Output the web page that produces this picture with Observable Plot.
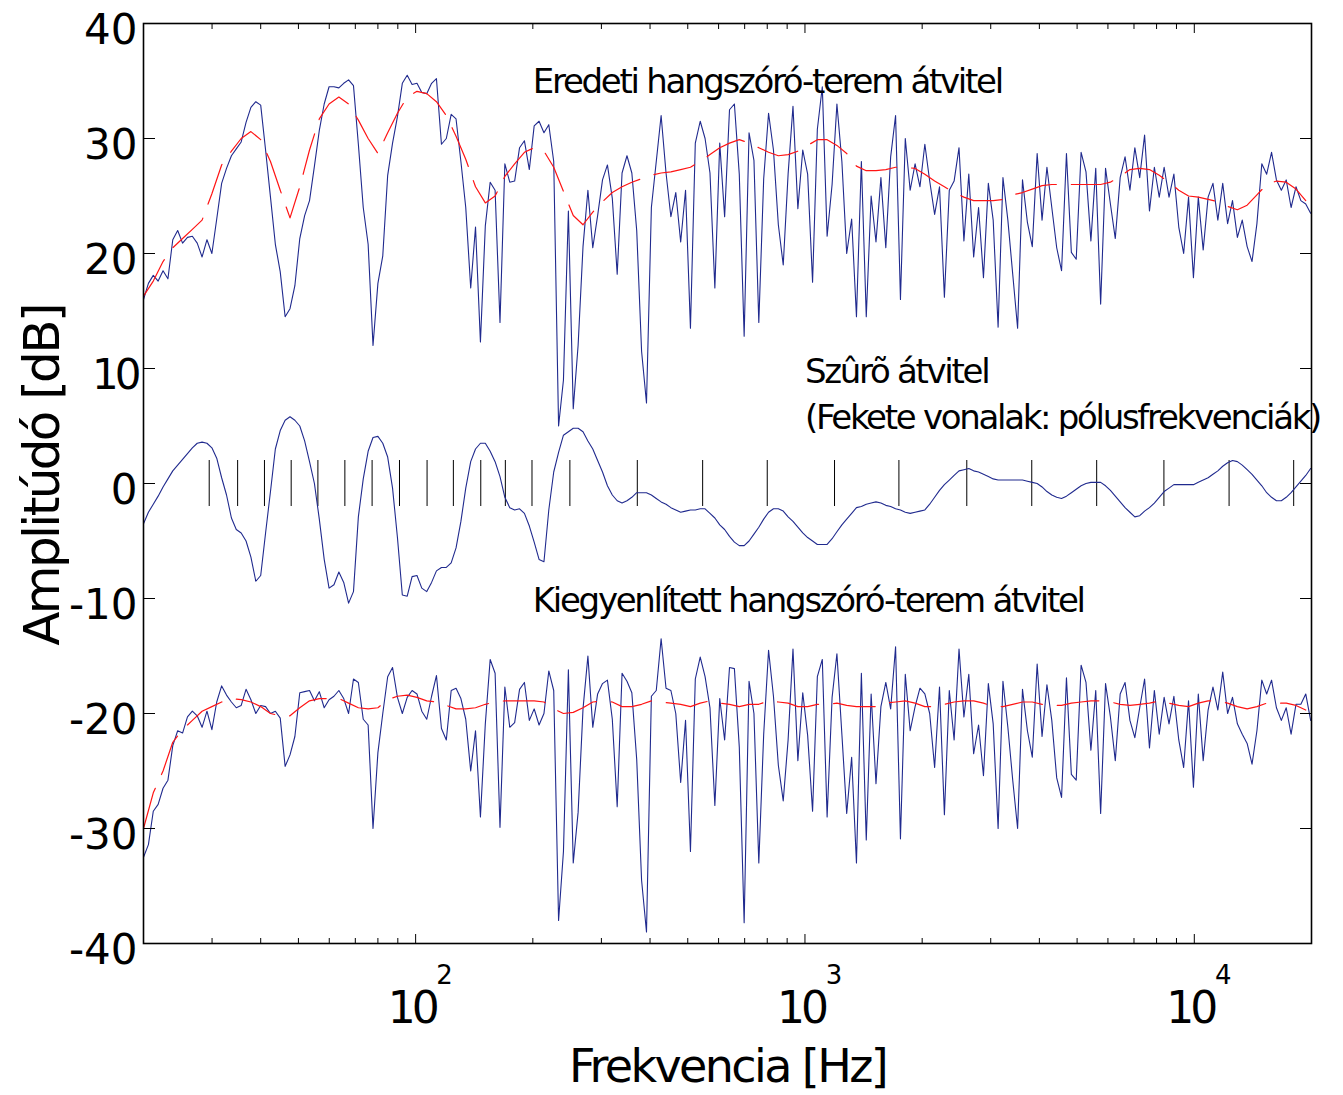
<!DOCTYPE html>
<html><head><meta charset="utf-8">
<script src="https://cdn.jsdelivr.net/npm/d3@7"></script>
<script src="https://cdn.jsdelivr.net/npm/@observablehq/plot@0.6"></script>
<style>
html,body{margin:0;padding:0;background:#fff;}
</style></head>
<body><div id="chart"></div>
<script>
// 1/24-octave analysis frequencies [Hz]
const freqs = [
20,20.59,21.19,21.81,22.45,23.11,23.78,24.48,25.2,25.94,26.7,27.48,28.28,29.11,29.97,30.84,31.75,32.68,33.64,34.62,35.64,36.68,37.75,38.86,
40,41.17,42.38,43.62,44.9,46.22,47.57,48.96,50.4,51.87,53.39,54.96,56.57,58.23,59.93,61.69,63.5,65.36,67.27,69.24,71.27,73.36,75.51,77.72,
80,82.34,84.76,87.24,89.8,92.43,95.14,97.93,100.8,103.7,106.8,109.9,113.1,116.5,119.9,123.4,127,130.7,134.5,138.5,142.5,146.7,151,155.4,
160,164.7,169.5,174.5,179.6,184.9,190.3,195.9,201.6,207.5,213.6,219.8,226.3,232.9,239.7,246.8,254,261.4,269.1,277,285.1,293.4,302,310.9,
320,329.4,339,349,359.2,369.7,380.5,391.7,403.2,415,427.1,439.7,452.5,465.8,479.5,493.5,508,522.8,538.2,553.9,570.2,586.9,604.1,621.8,
640,658.8,678.1,697.9,718.4,739.5,761.1,783.4,806.3,830,854.3,879.4,905.1,931.6,958.9,987,1016,1046,1076,1108,1140,1174,1208,1244,
1280,1318,1356,1396,1437,1479,1522,1567,1613,1660,1709,1759,1810,1863,1918,1974,2032,2091,2153,2216,2281,2348,2416,2487,
2560,2635,2712,2792,2874,2958,3044,3134,3225,3320,3417,3517,3620,3727,3836,3948,4064,4183,4305,4432,4561,4695,4833,4974,
5120,5270,5425,5583,5747,5916,6089,6267,6451,6640,6834,7035,7241,7453,7671,7896,8127,8366,8611,8863,9123,9390,9665,9949,
10240,10540,10850,11167,11494,11831,12177,12535,12902,13279,13669,14070,14482,14907,15343,15792,16255,16731,17222,17727,18246,18780,19331,19898
];

// Eredeti hangszóró-terem átvitel [dB]
const original = [
16.0,17.4,18.1,17.6,18.5,17.8,21.2,22.0,20.9,21.4,
21.5,20.9,19.7,21.2,20.0,23.0,26.1,27.4,28.5,29.1,
29.7,31.4,32.7,33.2,32.9,29.0,24.9,20.8,18.4,14.5,
15.2,17.2,21.3,23.3,24.6,27.6,30.7,33.0,34.5,34.5,
34.4,34.8,35.1,34.6,29.5,24.0,20.8,12.0,17.4,19.8,
26.8,29.6,31.9,34.8,35.5,34.7,34.8,34.0,33.9,34.8,
35.2,29.5,30.0,32.1,31.7,28.0,24.0,17.0,22.3,12.3,
22.4,26.2,25.5,14.0,27.8,26.2,26.3,29.2,29.8,27.3,
31.1,31.5,30.5,31.2,28.0,5.0,9.0,23.7,6.5,12.0,
20.6,25.5,20.5,23.3,26.4,27.7,24.8,18.2,27.0,28.5,
27.0,22.0,11.5,7.0,24.0,28.0,32.0,27.0,23.2,25.3,
21.0,25.5,13.5,29.6,31.5,30.0,27.0,17.0,29.6,23.2,
32.5,33.0,26.9,12.8,30.5,28.1,14.0,26.5,32.2,29.0,
22.5,19.0,26.9,32.8,23.9,29.0,26.9,17.5,30.8,34.5,
21.5,26.0,33.0,28.0,20.0,23.0,14.5,28.0,14.5,25.0,
21.0,26.6,20.5,28.4,32.0,16.0,30.0,25.5,27.8,25.8,
29.5,26.3,23.4,25.8,16.2,25.5,26.3,29.2,21.1,26.9,
19.7,24.0,17.9,26.1,22.9,13.6,26.6,22.9,18.2,13.5,
26.4,22.7,20.6,28.7,22.9,27.5,24.0,20.5,18.5,28.7,
20.1,19.5,28.8,27.1,21.1,27.4,15.6,27.4,24.3,21.3,
26.6,28.4,25.5,29.2,26.6,30.3,23.7,27.5,24.9,27.5,
24.9,26.9,22.3,20.0,24.9,17.9,24.9,20.3,24.9,26.1,
22.9,26.1,22.6,24.6,21.4,22.9,20.6,19.3,22.6,27.8,
26.9,28.8,26.4,25.5,26.4,24.0,25.8,24.6,24.3,23.5
];

// Szûrõ átvitel [dB]
const filterResp = [
-3.5,-2.5,-1.8,-1.1,-0.3,0.4,1.1,1.6,2.1,2.6,
3.1,3.5,3.6,3.5,3.1,2.2,0.5,-1.0,-3.0,-4.0,
-4.3,-5.0,-6.4,-8.5,-8.0,-4.3,-0.7,3.0,4.6,5.5,
5.8,5.5,5.0,3.7,1.9,0.0,-3.1,-6.6,-9.1,-8.8,
-7.7,-8.6,-10.4,-9.4,-2.9,0.4,2.8,4.0,4.1,3.5,
2.3,-0.4,-4.7,-9.7,-9.8,-8.1,-8.0,-9.1,-9.4,-8.6,
-7.6,-7.3,-7.3,-6.9,-5.6,-3.3,-0.4,1.9,3.0,3.5,
3.5,2.8,1.9,0.6,-1.2,-2.1,-2.3,-2.2,-2.6,-3.7,
-5.1,-6.6,-6.8,-2.3,1.0,2.7,4.2,4.5,4.8,4.8,
4.5,3.7,3.0,2.0,1.0,-0.2,-1.0,-1.5,-1.7,-1.5,
-1.2,-0.8,-0.8,-0.8,-1.0,-1.3,-1.6,-1.8,-2.1,-2.3,
-2.5,-2.4,-2.3,-2.3,-2.2,-2.2,-2.6,-3.0,-3.6,-4.0,
-4.6,-5.1,-5.4,-5.4,-5.0,-4.4,-3.8,-3.1,-2.5,-2.2,
-2.2,-2.4,-2.9,-3.3,-3.8,-4.3,-4.7,-5.0,-5.3,-5.3,
-5.3,-4.8,-4.2,-3.6,-3.1,-2.6,-2.1,-2.0,-1.8,-1.7,
-1.6,-1.7,-1.9,-2.0,-2.2,-2.3,-2.5,-2.6,-2.5,-2.4,
-2.3,-1.8,-1.2,-0.6,-0.1,0.3,0.7,1.1,1.2,1.3,
1.1,1.0,0.8,0.6,0.4,0.3,0.3,0.3,0.3,0.3,
0.3,0.2,0.1,0.0,-0.3,-0.7,-1.0,-1.2,-1.3,-1.1,
-0.8,-0.5,-0.2,0.0,0.1,0.1,0.1,-0.2,-0.6,-1.1,
-1.6,-2.1,-2.5,-2.9,-2.8,-2.4,-2.1,-1.7,-1.2,-0.7,
-0.4,-0.1,-0.1,-0.1,-0.1,-0.1,0.1,0.3,0.5,0.8,
1.1,1.5,1.8,2.0,1.9,1.6,1.2,0.8,0.3,-0.2,
-0.8,-1.2,-1.5,-1.5,-1.2,-0.8,-0.3,0.2,0.7,1.3
];

// Kiegyenlített hangszóró-terem átvitel [dB]
const equalized = [
-32.5,-31.4,-28.5,-27.9,-26.5,-25.8,-22.8,-21.5,-21.7,-20.3,
-19.8,-20.2,-21.2,-19.8,-21.4,-19.0,-17.6,-18.4,-19.0,-19.5,
-19.3,-17.9,-18.8,-20.0,-19.3,-19.4,-20.0,-19.8,-20.4,-24.6,
-23.6,-22.0,-18.2,-18.1,-18.0,-18.9,-18.1,-19.5,-18.8,-18.5,
-18.0,-18.7,-20.0,-17.0,-17.3,-20.5,-21.0,-30.0,-23.4,-20.0,
-16.8,-16.0,-18.6,-20.0,-18.6,-18.0,-18.3,-19.8,-20.5,-18.5,
-16.7,-21.3,-22.3,-18.0,-17.8,-18.7,-20.5,-25.0,-21.5,-29.0,
-20.9,-15.3,-16.5,-29.9,-17.7,-21.2,-20.8,-17.9,-17.3,-20.6,
-19.6,-21.0,-20.0,-16.3,-18.0,-38.0,-32.0,-16.2,-33.0,-28.6,
-19.6,-15.0,-21.2,-18.3,-17.4,-17.1,-20.5,-28.1,-16.5,-17.2,
-18.2,-24.0,-34.5,-39.0,-18.5,-18.0,-13.5,-17.8,-18.0,-20.0,
-26.0,-20.6,-32.0,-17.0,-15.1,-16.8,-19.5,-28.0,-18.7,-22.3,
-16.0,-16.1,-22.9,-38.2,-17.2,-20.0,-33.0,-21.8,-14.5,-18.5,
-24.5,-27.6,-22.3,-14.4,-24.1,-18.2,-21.9,-28.5,-16.8,-15.3,
-29.0,-18.6,-14.8,-21.8,-28.7,-23.8,-33.0,-16.5,-31.0,-18.3,
-26.1,-19.4,-17.3,-19.6,-14.2,-30.9,-16.6,-21.5,-19.4,-17.8,
-18.3,-20.0,-24.7,-17.7,-28.8,-18.0,-22.3,-14.4,-20.3,-16.6,
-23.5,-21.0,-25.4,-17.4,-20.9,-30.0,-17.2,-21.2,-25.8,-30.0,
-17.9,-21.5,-23.8,-15.7,-22.0,-17.5,-20.6,-25.6,-27.3,-16.9,
-25.3,-25.8,-15.8,-17.3,-23.2,-18.0,-28.7,-17.4,-20.3,-24.1,
-18.3,-17.3,-20.6,-22.1,-19.5,-17.0,-23.0,-18.0,-21.8,-18.6,
-20.9,-18.5,-22.3,-24.7,-18.9,-26.4,-18.3,-24.1,-19.7,-17.7,
-19.7,-16.4,-20.0,-18.6,-20.9,-21.8,-22.6,-24.4,-21.5,-17.1,
-18.3,-17.1,-19.5,-20.6,-19.5,-21.8,-19.2,-19.2,-18.3,-20.6
];

// smoothed curves (red dashed), on every second analysis frequency (1/12 octave)
const originalSmooth = [
16.3,17.6,19.3,20.5,21.3,22.1,22.9,25.2,27.7,28.9,
30.0,30.6,29.9,28.0,25.5,23.1,25.8,29.0,31.7,33.0,
33.6,33.0,31.6,30.0,28.7,30.5,32.2,33.6,34.1,33.9,
33.2,32.0,30.2,28.2,25.8,24.4,25.0,26.7,27.8,28.8,
29.2,28.9,27.5,25.4,23.3,22.5,23.6,24.5,25.3,25.8,
26.2,26.5,26.8,27.0,27.1,27.3,27.5,28.0,28.6,29.2,
29.6,29.9,29.6,29.2,28.8,28.5,28.6,28.9,29.4,29.9,
29.9,29.4,28.7,27.6,27.2,27.2,27.3,27.5,27.5,27.4,
26.9,26.3,25.8,25.3,24.9,24.6,24.6,24.6,24.7,25.1,
25.3,25.6,25.9,26.0,26.0,26.0,26.0,26.0,26.0,26.2,
26.7,27.3,27.4,27.3,26.8,26.2,25.5,25.0,24.9,24.7,
24.5,24.1,23.8,24.2,25.1,26.0,26.3,26.2,25.6,24.6
];
const equalizedSmooth = [
-30.0,-26.9,-25.0,-22.5,-21.4,-20.6,-19.8,-19.4,-19.0,-18.7,
-18.8,-19.0,-19.4,-20.0,-20.2,-20.2,-19.5,-18.9,-18.7,-18.7,
-18.7,-19.1,-19.5,-19.6,-19.5,-18.8,-18.5,-18.4,-18.6,-18.9,
-19.0,-19.3,-19.6,-19.6,-19.5,-19.2,-19.0,-18.9,-18.9,-18.9,
-18.9,-19.0,-19.6,-20.0,-19.9,-19.5,-19.0,-18.9,-19.0,-19.4,
-19.4,-19.2,-18.9,-19.0,-19.1,-19.2,-19.4,-19.1,-18.9,-19.1,
-19.2,-19.4,-19.2,-19.2,-18.9,-19.0,-19.1,-19.4,-19.4,-19.2,
-19.2,-19.1,-19.3,-19.4,-19.4,-19.4,-19.1,-19.0,-18.9,-19.1,
-19.4,-19.4,-19.2,-19.0,-18.9,-18.9,-19.1,-19.4,-19.4,-19.2,
-19.0,-19.0,-19.2,-19.3,-19.3,-19.1,-19.0,-18.9,-18.9,-19.0,
-19.2,-19.3,-19.2,-19.1,-18.9,-19.1,-19.3,-19.4,-19.1,-18.9,
-18.9,-19.1,-19.4,-19.6,-19.4,-19.1,-19.1,-19.1,-19.3,-19.7
];

// pole frequencies of the filter [Hz] (black markers)
const poleFreqs = [29.5,34.9,40.9,47.9,56.1,65.8,77.3,90.9,107,125,147,170,199,249,371,546,800,1191,1743,2604,3824,5614,8355,12284,18000];
const poleMarkerDb = 2;

// axes
const yTicks = [-40,-30,-20,-10,0,10,20,30,40];
const majorFreqTicks = [100,1000,10000];
const minorFreqTicks = [20,30,40,50,60,70,80,90,200,300,400,500,600,700,800,900,2000,3000,4000,5000,6000,7000,8000,9000,20000];
const xTitle = "Frekvencia [Hz]";
const yTitle = "Amplitúdó [dB]";

// annotations
const annoLabels = ["Eredeti hangszóró-terem átvitel","Szûrõ átvitel","(Fekete vonalak: pólusfrekvenciák)","Kiegyenlített hangszóró-terem átvitel"];
const annoFreqs = [200,1000,1000,200];
const annoDb = [34.9,9.7,5.7,-10.2];

const BLUE = "#202a8e";
const RED = "#ff1414";
const FONT = "'DejaVu Sans', Verdana, sans-serif";

const smoothFreqs = freqs.filter((f, i) => i % 2 === 0);
const origData = freqs.map((f, i) => ({f, db: original[i]}));
const eqData = freqs.map((f, i) => ({f, db: equalized[i]}));
const filtData = freqs.map((f, i) => ({f, db: filterResp[i]}));
const origSmoothData = smoothFreqs.map((f, i) => ({f, db: originalSmooth[i]}));
const eqSmoothData = smoothFreqs.map((f, i) => ({f, db: equalizedSmooth[i]}));
const annotations = annoLabels.map((label, i) => ({label, f: annoFreqs[i], db: annoDb[i]}));
const fmtY = d => (d < 0 ? "-" : "") + Math.abs(d);

const chart = Plot.plot({
  width: 1343,
  height: 1095,
  marginLeft: 143,
  marginRight: 32,
  marginTop: 23,
  marginBottom: 152,
  style: {fontFamily: FONT, background: "#fff", color: "#000"},
  x: {type: "log", domain: [20, 20000], label: null},
  y: {domain: [-40, 40], label: null},
  marks: [
    Plot.ruleX(poleFreqs, {x: d => d, y1: -poleMarkerDb, y2: poleMarkerDb, stroke: "#000", strokeWidth: 1}),
    Plot.line(filtData, {x: "f", y: "db", stroke: BLUE, strokeWidth: 1.1}),
    Plot.line(origData, {x: "f", y: "db", stroke: BLUE, strokeWidth: 1.1}),
    Plot.line(eqData, {x: "f", y: "db", stroke: BLUE, strokeWidth: 1.1}),
    Plot.line(origSmoothData, {x: "f", y: "db", stroke: RED, strokeWidth: 1.2, strokeDasharray: "42,15"}),
    Plot.line(eqSmoothData, {x: "f", y: "db", stroke: RED, strokeWidth: 1.2, strokeDasharray: "42,15"}),
    Plot.frame({stroke: "#000", strokeWidth: 1.6}),
    Plot.axisY({anchor: "left", ticks: yTicks, tickSize: -12, fill: "none", label: null}),
    Plot.axisY({anchor: "right", ticks: yTicks, tickSize: -12, fill: "none", label: null}),
    Plot.axisY({anchor: "left", ticks: yTicks, tickSize: 0, tickPadding: 6, tickFormat: fmtY, fontSize: 42, dy: 7, label: null}),
    Plot.axisX({anchor: "bottom", ticks: minorFreqTicks, tickSize: -5, fill: "none", label: null}),
    Plot.axisX({anchor: "top", ticks: minorFreqTicks, tickSize: -5, fill: "none", label: null}),
    Plot.axisX({anchor: "bottom", ticks: majorFreqTicks, tickSize: 0, tickPadding: 48, tickFormat: () => "10", fontSize: 44, dx: -4, label: null}),
    Plot.axisX({anchor: "bottom", ticks: majorFreqTicks, tickSize: 0, tickPadding: 22, tickFormat: d => String(Math.round(Math.log10(d))), fontSize: 26, dx: 29, label: null}),
    Plot.axisX({anchor: "bottom", ticks: majorFreqTicks, tickSize: -9, fill: "none", label: null}),
    Plot.axisX({anchor: "top", ticks: majorFreqTicks, tickSize: -9, fill: "none", label: null}),
    Plot.text([xTitle], {frameAnchor: "bottom", dy: 124, fontSize: 46, textAnchor: "middle", lineAnchor: "middle"}),
    Plot.text([yTitle], {frameAnchor: "left", dx: -101, dy: -8, rotate: -90, fontSize: 50, textAnchor: "middle", lineAnchor: "middle"}),
    Plot.text(annotations, {x: "f", y: "db", text: "label", textAnchor: "start", lineAnchor: "middle", fontSize: 34})
  ]
});

document.getElementById("chart").appendChild(chart);
// tighter letter spacing, as in the reference typography
const spacing = new Map([
  ...annoLabels.map(s => [s, "-2.3px"]),
  [xTitle, "-2.6px"],
  [yTitle, "-2.6px"],
  ["10", "-4px"]
]);
chart.querySelectorAll("text").forEach(t => {
  const v = spacing.get(t.textContent);
  if (v) t.setAttribute("letter-spacing", v);
});
</script>
</body></html>
